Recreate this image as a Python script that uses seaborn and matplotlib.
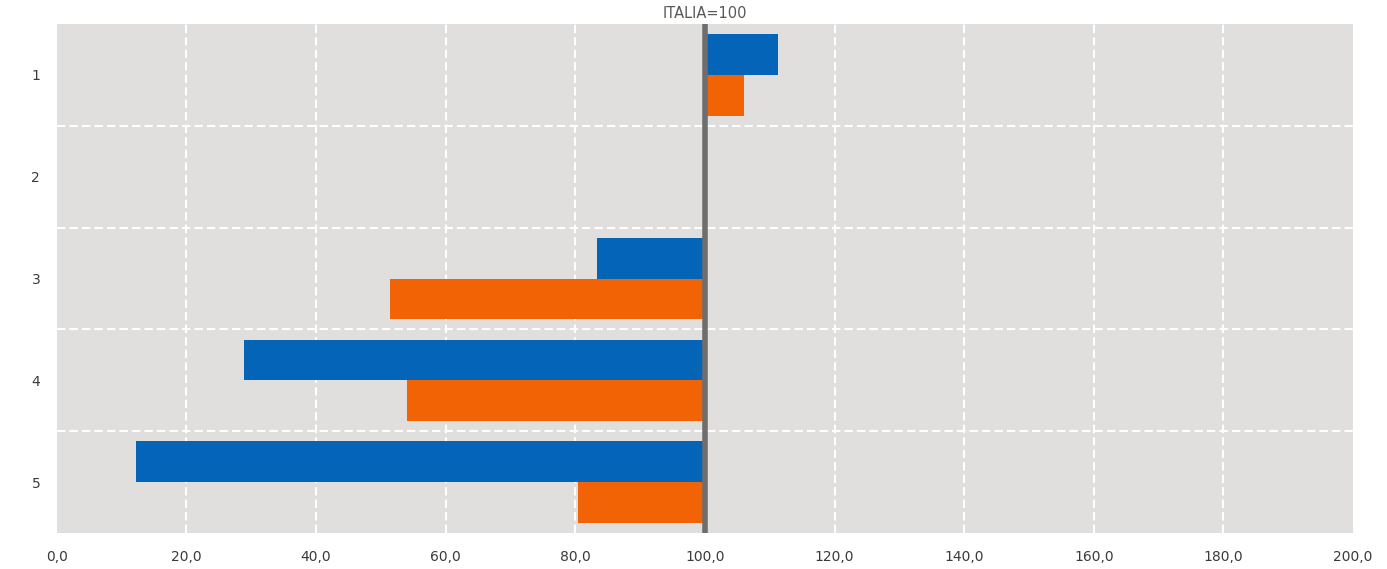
import matplotlib
matplotlib.use('Agg')
import matplotlib.pyplot as plt
import matplotlib.ticker as mticker
import seaborn as sns
import pandas as pd

# Indice rispetto a Italia = 100
categories = ['1', '2', '3', '4', '5']
serie_blu = [111.3, 100.0, 83.3, 28.9, 12.2]
serie_arancio = [106.0, 100.0, 51.4, 54.0, 80.4]
base = 100.0

df = pd.DataFrame({
    'cat': categories * 2,
    'serie': ['blu'] * len(categories) + ['arancio'] * len(categories),
    'valore': serie_blu + serie_arancio,
})
df['delta'] = df['valore'] - base

sns.set_style('white')
plt.rcParams['font.family'] = ['DejaVu Sans']

fig = plt.figure(figsize=(13.87, 5.69), dpi=100)
ax = fig.add_axes([0.041, 0.063, 0.9345, 0.895])
ax.set_facecolor('#E1DFDE')

sns.barplot(data=df, y='cat', x='delta', hue='serie', orient='h',
            palette={'blu': '#0465B8', 'arancio': '#F26306'},
            saturation=1, width=0.8, linewidth=0, legend=False, ax=ax)

ax.set_xlim(-base, 200 - base)
ax.set_ylim(4.5, -0.5)
ax.xaxis.set_major_locator(mticker.MultipleLocator(20))
ax.xaxis.set_major_formatter(mticker.FuncFormatter(
    lambda v, p: f'{v + base:.1f}'.replace('.', ',')))

# griglia bianca tratteggiata
for v in range(-80, 100, 20):
    ax.axvline(v, color='white', lw=1.5, ls=(0, (4, 2)), zorder=0)
for y in [0.5, 1.5, 2.5, 3.5]:
    ax.axhline(y, color='white', lw=1.5, ls=(0, (4, 2)), zorder=0)

ax.axvline(0, color='#6E6E6E', lw=4, zorder=5)

for s in ax.spines.values():
    s.set_visible(False)
ax.tick_params(axis='both', length=0, labelsize=10, labelcolor='#3A3A3A', pad=12)
ax.set_xlabel('')
ax.set_ylabel('')
ax.set_title('ITALIA=100', fontsize=10.5, color='#595959', pad=4)

fig.savefig('out.png', dpi=100, facecolor='white')
